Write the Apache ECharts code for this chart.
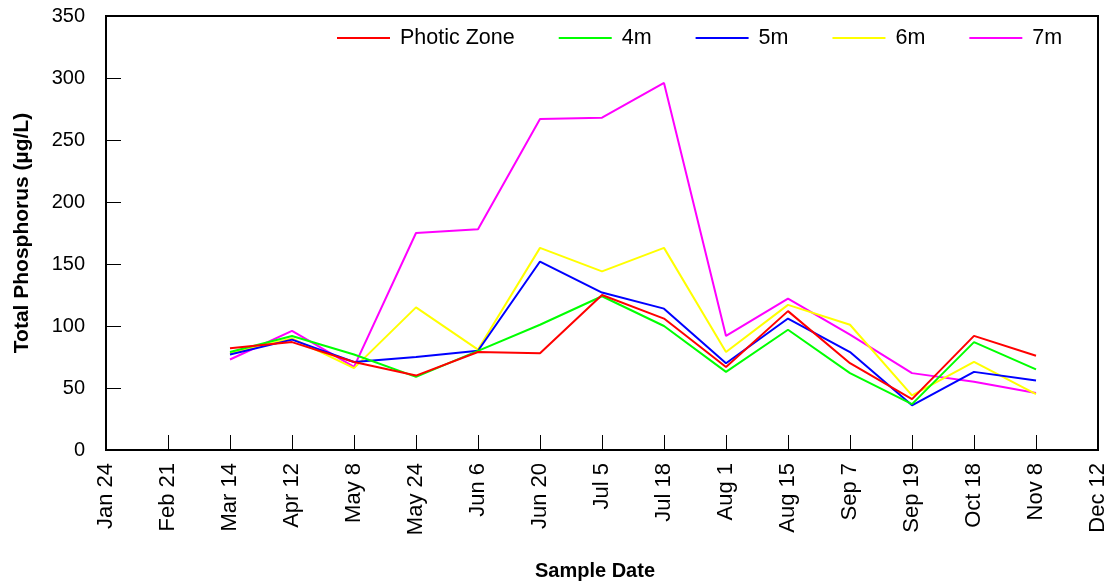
<!DOCTYPE html>
<html>
<head>
<meta charset="utf-8">
<script src="https://cdn.jsdelivr.net/npm/echarts@6/dist/echarts.min.js"></script>
<style>
  html, body { margin: 0; padding: 0; background: #fff; }
  #chart { width: 1109px; height: 584px; }
</style>
</head>
<body>
<div id="chart"></div>
<script>
// Sample dates on the x axis
const sampleDates = ['Jan 24', 'Feb 21', 'Mar 14', 'Apr 12', 'May 8', 'May 24', 'Jun 6', 'Jun 20',
  'Jul 5', 'Jul 18', 'Aug 1', 'Aug 15', 'Sep 7', 'Sep 19', 'Oct 18', 'Nov 8', 'Dec 12'];

// Total phosphorus (µg/L) per depth; null where no sample was taken
const photicZone = [null, null, 82, 87, 71, 60, 79, 78, 125, 106, 67, 112, 70, 41, 92, 76, null];
const depth4m    = [null, null, 79, 92, 77, 59, 80, 101, 124, 100, 63, 97, 62, 37, 87, 65, null];
const depth5m    = [null, null, 77, 89, 71, 75, 80, 152, 127, 114, 70, 106, 79, 36, 63, 56, null];
const depth6m    = [null, null, 78, 90, 66, 115, 81, 163, 144, 163, 79, 117, 101, 44, 71, 45, null];
const depth7m    = [null, null, 73, 96, 67, 175, 178, 267, 268, 296, 92, 122, 93, 62, 55, 46, null];

const seriesNames = ['Photic Zone', '4m', '5m', '6m', '7m'];
const yTicks = { min: 0, max: 350, step: 50 };

const font = "'Liberation Sans', Arial, Helvetica, sans-serif";

const chart = echarts.init(document.getElementById('chart'), null, { renderer: 'canvas' });

function lineSeries(name, data, color) {
  return {
    name: name,
    type: 'line',
    data: data,
    symbol: 'none',
    connectNulls: false,
    lineStyle: { color: color, width: 2 },
    itemStyle: { color: color },
    emphasis: { disabled: true }
  };
}

chart.setOption({
  animation: false,
  backgroundColor: '#ffffff',
  textStyle: { fontFamily: font },
  grid: {
    left: 106, right: 11, top: 16, bottom: 134,
    containLabel: false,
    outerBoundsMode: 'none',
    show: true, borderColor: '#000', borderWidth: 2, backgroundColor: 'transparent'
  },
  legend: {
    data: seriesNames,
    left: 337, top: 27,
    padding: 0,
    icon: 'rect',
    itemWidth: 53, itemHeight: 2,
    itemGap: 44,
    textStyle: { fontFamily: font, fontSize: 21.5, color: '#000', padding: [0, 0, 0, 5] }
  },
  xAxis: {
    type: 'category',
    data: sampleDates,
    boundaryGap: false,
    name: 'Sample Date',
    nameLocation: 'middle',
    nameGap: 111,
    nameTextStyle: { fontFamily: font, fontSize: 20, fontWeight: 'bold', color: '#000', padding: [0, 14, 0, 0] },
    axisLine: { lineStyle: { color: '#000', width: 2 } },
    axisTick: { inside: true, length: 15, alignWithLabel: true, lineStyle: { color: '#000', width: 1 } },
    axisLabel: { rotate: 90, margin: 13, fontSize: 22, color: '#000', fontFamily: font, interval: 0 },
    splitLine: { show: false }
  },
  yAxis: {
    type: 'value',
    min: yTicks.min, max: yTicks.max, interval: yTicks.step,
    name: 'Total Phosphorus (µg/L)',
    nameLocation: 'middle',
    nameGap: 73,
    nameTextStyle: { fontFamily: font, fontSize: 21, fontWeight: 'bold', color: '#000' },
    axisLine: { show: true, lineStyle: { color: '#000', width: 2 } },
    axisTick: { show: true, inside: true, length: 15, lineStyle: { color: '#000', width: 1 } },
    axisLabel: { margin: 21, fontSize: 20, color: '#000', fontFamily: font },
    splitLine: { show: false }
  },
  series: [
    lineSeries('7m', depth7m, '#ff00ff'),
    lineSeries('6m', depth6m, '#ffff00'),
    lineSeries('5m', depth5m, '#0000ff'),
    lineSeries('4m', depth4m, '#00ff00'),
    lineSeries('Photic Zone', photicZone, '#ff0000')
  ]
});
</script>
</body>
</html>
